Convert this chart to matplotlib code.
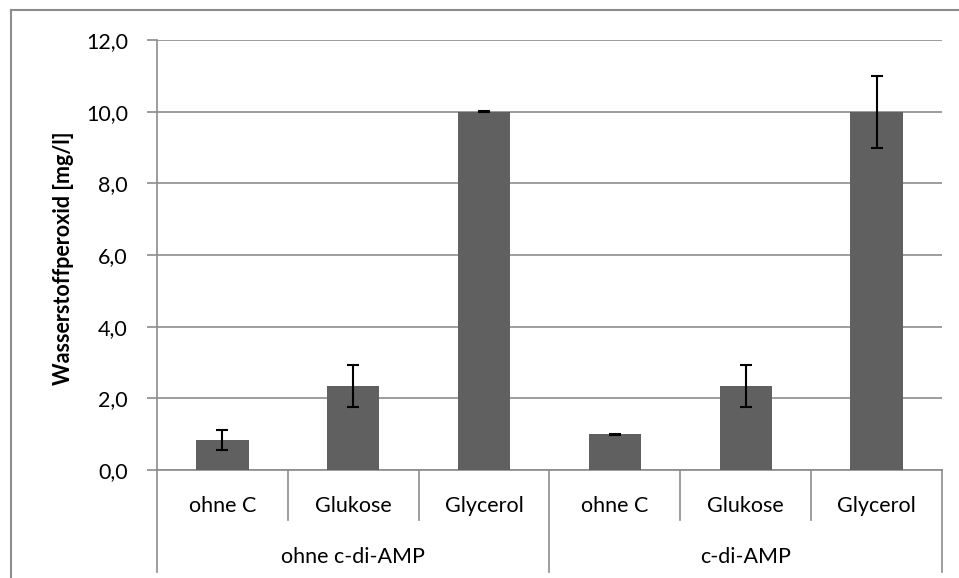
import matplotlib
matplotlib.use("Agg")
import matplotlib.pyplot as plt
from matplotlib.lines import Line2D
from matplotlib.ticker import FuncFormatter
import numpy as np

plt.rcParams['font.family'] = ['Lato', 'DejaVu Sans']

categories = ["ohne C", "Glukose", "Glycerol", "ohne C", "Glukose", "Glycerol"]
groups = ["ohne c-di-AMP", "c-di-AMP"]
values = [0.84, 2.34, 10.0, 1.0, 2.34, 10.0]
errors = [0.29, 0.58, 0.01, 0.01, 0.58, 1.0]
yticks = [0, 2, 4, 6, 8, 10, 12]
ylabel = "Wasserstoffperoxid [mg/l]"

W, H = 959, 578
fig = plt.figure(figsize=(W / 100, H / 100), dpi=100)
x0, x1, ytop, ybot = 157, 942, 40, 470
ax = fig.add_axes([x0 / W, 1 - ybot / H, (x1 - x0) / W, (ybot - ytop) / H])

FS = 15.5
grid_c = "#8c8c8c"
x = np.arange(len(categories))
ax.bar(x, values, width=0.4, color="#606060", zorder=3)
ax.errorbar(x, values, yerr=errors, fmt="none", ecolor="black", elinewidth=1.5,
            capsize=4.5, capthick=1.5, zorder=4)

ax.set_xlim(-0.5, len(categories) - 0.5)
ax.set_ylim(0, 12)
ax.set_yticks(yticks)
ax.yaxis.set_major_formatter(FuncFormatter(lambda v, p: f"{v:.1f}".replace(".", ",")))
ax.grid(axis="y", color=grid_c, linewidth=1.2, zorder=0)
ax.set_axisbelow(True)
for s in ["top", "right"]:
    ax.spines[s].set_visible(False)
for s in ["left", "bottom"]:
    ax.spines[s].set_color(grid_c)
    ax.spines[s].set_linewidth(1.2)
ax.set_xticks([])
ax.tick_params(axis="y", length=7, width=1.2, color=grid_c, pad=14, labelsize=FS,
               labelcolor="black")

h = ybot - ytop
def ay(py):
    return (ybot - py) / h

tr = ax.get_xaxis_transform()
# category labels
for i, c in enumerate(categories):
    ax.text(i, ay(506), c, transform=tr, ha="center", va="center", fontsize=FS)
# inner separators
for g in range(len(groups)):
    for k in range(1, 3):
        xs = g * 3 + k - 0.5
        ax.add_line(Line2D([xs, xs], [0, ay(520)], transform=tr, color=grid_c,
                           lw=1.2, clip_on=False))
# group separators
for xs in [-0.5, 2.5, 5.5]:
    ax.add_line(Line2D([xs, xs], [0, ay(572)], transform=tr, color=grid_c,
                       lw=1.2, clip_on=False))
for g, name in enumerate(groups):
    ax.text(g * 3 + 1, ay(557), name, transform=tr, ha="center", va="center",
            fontsize=FS)

# y label
fig.text(64 / W, 1 - 258 / H, ylabel, rotation=90, ha="center", va="center",
         fontsize=FS, fontweight="bold")

# chart area border (left and top visible)
fig.add_artist(Line2D([11 / W, 11 / W], [0, 1 - 10 / H], transform=fig.transFigure,
                      color=grid_c, lw=1.5))
fig.add_artist(Line2D([11 / W, 1], [1 - 10 / H, 1 - 10 / H], transform=fig.transFigure,
                      color=grid_c, lw=1.5))

fig.savefig("out.png", dpi=100)
